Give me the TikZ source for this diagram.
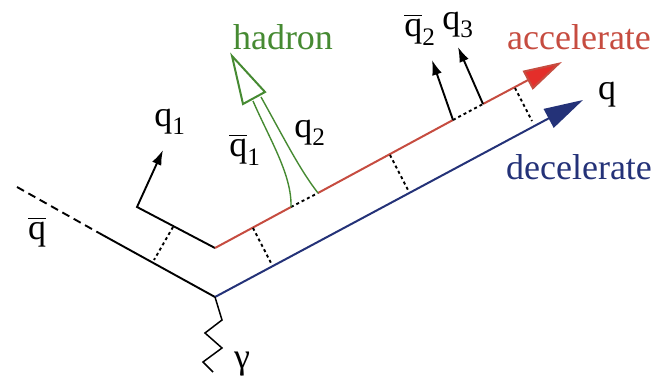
\documentclass[tikz,border=0pt]{standalone}
\usepackage{amsmath}
\usepackage{fontspec}
\setmainfont{Liberation Serif}
\usetikzlibrary{arrows.meta,calc}
\definecolor{accred}{RGB}{198,76,64}
\definecolor{headred}{RGB}{228,46,42}
\definecolor{decblue}{RGB}{36,50,120}
\definecolor{hadgreen}{RGB}{70,138,50}

\begin{document}
\begin{tikzpicture}[x=1pt,y=-1pt,line width=1.9pt,
  lbl/.style={font=\fontsize{36}{42}\selectfont,inner sep=0pt},
  rung/.style={dash pattern=on 3pt off 3pt},
  kick/.style={-{Latex[length=15pt,width=10pt]}},
  bigtip/.style={-{Triangle[length=39pt,width=21pt,fill=#1]}}]
  \useasboundingbox (0,0) rectangle (664,379);
  % quark lines
  \coordinate (vtx) at (215,297);
  \coordinate (bend) at (215,248);
  \coordinate (qbarcut) at (99,233);
  \coordinate (qbarend) at (17,187);
  \coordinate (qonecorner) at (137,207);
  \coordinate (qonetip) at (163,150);
  \coordinate (accend) at (562,62);
  \coordinate (decend) at (583,100);
  \coordinate (hadl) at (291,207);
  \coordinate (hadr) at (318,193);
  \coordinate (qtwofoot) at (453,120);
  \coordinate (qthreefoot) at (483,104);
  \coordinate (qtwotip) at (432,60);
  \coordinate (qthreetip) at (458,47);
  \draw[dash pattern=on 8pt off 5pt] (qbarend) -- (qbarcut);
  \draw (qbarcut) -- (vtx);
  \draw[kick] (bend) -- (qonecorner) -- (qonetip);
  \draw[decblue,line width=2pt,bigtip=decblue] (vtx) -- (decend);
  \draw[accred,line width=2pt] (bend) -- (hadl) (hadr) -- (qtwofoot);
  \draw[accred,line width=2pt,bigtip=headred] (qthreefoot) -- (accend);
  \draw[rung] (hadl) -- (hadr) (qtwofoot) -- (qthreefoot);
  \draw[kick] (qtwofoot) -- (qtwotip);
  \draw[kick] (qthreefoot) -- (qthreetip);
  % strings between the lines
  \draw[rung] (173,227) -- (154,260);
  \draw[rung] (253,228) -- (271,263);
  \draw[rung] (390,155) -- (408,190);
  \draw[rung] (515,88) -- (532,121);
  % photon
  \draw[line width=1.5pt] (vtx) -- (222,320) -- (205,333) -- (222,348) -- (203,362) -- (213,372);
  % hadron
  \draw[hadgreen,line width=1.4pt] (hadl) .. controls (292,175) and (270,140) .. (253,101);
  \draw[hadgreen,line width=1.4pt] (hadr) .. controls (300,170) and (285,140) .. (261,97);
  \draw[hadgreen,line width=2pt,line join=miter] (232,56) -- (243,104) -- (265,92) -- cycle;
  % labels
  \node[lbl] (qbar) at (37,232) {$\overline{\text{q}}$};
  \node[lbl] (qone) at (170,122) {q$_{\text{1}}$};
  \node[lbl] (qbarone) at (245,150) {$\overline{\text{q}}_{\text{1}}$};
  \node[lbl] (qtwo) at (310,133) {q$_{\text{2}}$};
  \node[lbl] (qbartwo) at (420,30) {$\overline{\text{q}}_{\text{2}}$};
  \node[lbl] (qthree) at (458,25) {q$_{\text{3}}$};
  \node[lbl,text=hadgreen] (hadron) at (283,37) {hadron};
  \node[lbl,text=accred] (accel) at (579,37) {accelerate};
  \node[lbl] (qq) at (607,95) {q};
  \node[lbl,text=decblue] (decel) at (579,167) {decelerate};
  \node[lbl] (gam) at (242,364) {γ};
\end{tikzpicture}
\end{document}
